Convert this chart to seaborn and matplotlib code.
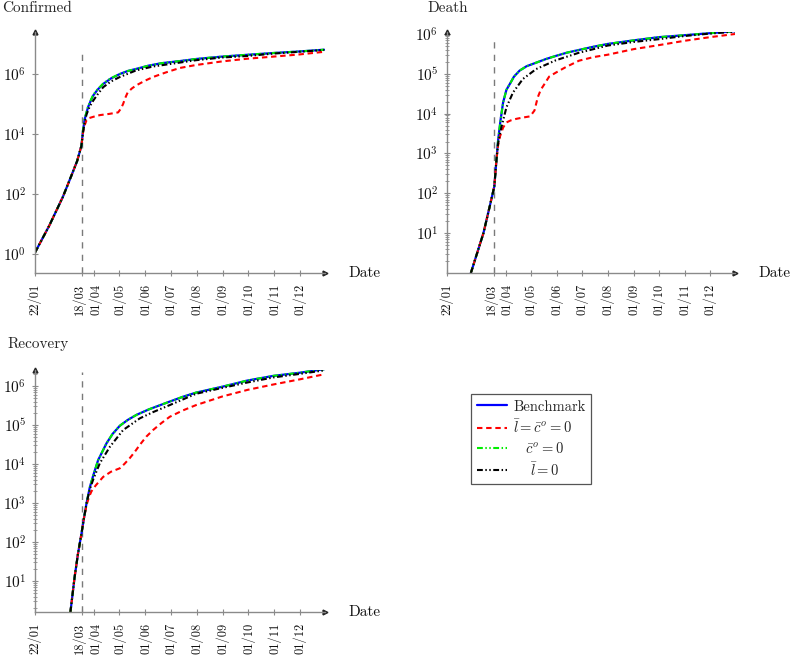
import numpy as np
import pandas as pd
import matplotlib
matplotlib.use("Agg")
import matplotlib.pyplot as plt
import matplotlib.transforms as mtransforms
import seaborn as sns
from matplotlib.ticker import FixedLocator, LogLocator, NullFormatter, NullLocator, LogFormatterMathtext

# ---------------- data (days since 22/01, log10 of value) ----------------
tick_days = [0, 56, 70, 100, 131, 161, 192, 223, 253, 284, 314]
tick_labels = ["22/01", "18/03", "01/04", "01/05", "01/06", "01/07",
               "01/08", "01/09", "01/10", "01/11", "01/12"]
series_labels = ["Benchmark", r"$\bar{l}=\bar{c}^o=0$", r"$\quad\bar{c}^o=0$", r"$\quad\ \bar{l}=0$"]
panel_titles = ["Confirmed", "Death", "Recovery"]

# Confirmed
conf_bench_days = [0, 17, 33, 43, 50, 55, 57.2, 59, 61.2, 63, 66, 69, 74, 80.9, 90, 100.6, 110, 120, 135, 150, 171.6, 191, 222, 252, 283, 313, 343]
conf_bench_log = [0.05, 0.95, 1.9, 2.6, 3.1, 3.6, 4.16, 4.5, 4.72, 4.9, 5.1, 5.28, 5.47, 5.67, 5.85, 6.0, 6.1, 6.17, 6.28, 6.36, 6.43, 6.5, 6.58, 6.64, 6.7, 6.75, 6.81]
conf_red_days = [0, 17, 33, 43, 50, 55, 57.2, 59, 61, 63, 70, 77, 88, 98.6, 102, 104.5, 107, 110, 115, 120, 130, 140, 155, 171.6, 191, 222, 252, 283, 313, 343]
conf_red_log = [0.05, 0.95, 1.9, 2.6, 3.1, 3.6, 4.1, 4.3, 4.45, 4.52, 4.58, 4.63, 4.67, 4.72, 4.85, 5.0, 5.2, 5.39, 5.52, 5.62, 5.77, 5.9, 6.05, 6.2, 6.3, 6.42, 6.51, 6.58, 6.65, 6.74]
conf_green_days = conf_bench_days
conf_green_log = [0.05, 0.95, 1.9, 2.6, 3.1, 3.6, 4.18, 4.52, 4.74, 4.92, 5.12, 5.3, 5.48, 5.68, 5.86, 6.0, 6.1, 6.17, 6.28, 6.36, 6.43, 6.5, 6.58, 6.64, 6.7, 6.75, 6.81]
conf_black_days = [0, 17, 33, 43, 50, 55, 57.2, 59, 61.2, 65, 69, 75, 80.9, 90, 100.6, 120, 140, 171.6, 191, 222, 252, 283, 313, 343]
conf_black_log = [0.05, 0.95, 1.9, 2.6, 3.1, 3.6, 4.1, 4.4, 4.66, 4.92, 5.11, 5.35, 5.56, 5.75, 5.9, 6.12, 6.25, 6.38, 6.46, 6.55, 6.6, 6.68, 6.74, 6.8]

# Death
death_bench_days = [28.5, 36, 43.5, 51, 56.5, 59.2, 61, 63.9, 67, 71, 74.9, 80, 86.7, 95, 106.5, 118, 130, 143, 157.7, 175, 192, 223, 253, 284, 314, 344]
death_bench_log = [0, 0.5, 1.0, 1.67, 2.17, 2.87, 3.32, 3.83, 4.28, 4.6, 4.74, 4.93, 5.08, 5.19, 5.28, 5.37, 5.45, 5.53, 5.6, 5.68, 5.75, 5.84, 5.92, 5.97, 6.02, 6.07]
death_red_days = [28.5, 36, 43.5, 51, 56.5, 59.2, 61, 63, 67, 71, 76, 82.8, 90, 98.6, 101, 104.5, 108.4, 112, 116.3, 122, 130, 142, 157.7, 175, 192, 223, 253, 284, 314, 344]
death_red_log = [0, 0.5, 1.0, 1.67, 2.17, 2.87, 3.2, 3.41, 3.65, 3.78, 3.83, 3.87, 3.9, 3.93, 3.98, 4.08, 4.41, 4.6, 4.74, 4.93, 5.03, 5.17, 5.33, 5.42, 5.48, 5.62, 5.72, 5.83, 5.92, 6.0]
death_green_days = death_bench_days
death_green_log = death_bench_log
death_black_days = [28.5, 36, 43.5, 51, 56.5, 59.2, 61, 65, 71, 78.8, 90.6, 106.5, 130, 157.7, 175, 192, 223, 253, 284, 314, 344]
death_black_log = [0, 0.5, 1.0, 1.67, 2.17, 2.87, 3.25, 3.66, 4.16, 4.53, 4.87, 5.12, 5.34, 5.53, 5.62, 5.71, 5.8, 5.87, 5.95, 6.01, 6.06]

# Recovery
rec_bench_days = [42, 47, 51, 55, 58, 61.2, 65, 69, 74.9, 84.8, 92, 100.6, 110, 120.4, 135, 159.8, 175, 191, 222, 252, 283, 314, 343]
rec_bench_log = [0.2, 1.1, 1.7, 2.2, 2.6, 3.0, 3.4, 3.7, 4.1, 4.53, 4.77, 4.98, 5.13, 5.26, 5.4, 5.6, 5.72, 5.83, 5.98, 6.14, 6.26, 6.34, 6.43]
rec_red_days = [42, 47, 51, 55, 58, 61.2, 64, 67, 72, 80.9, 90, 100.6, 106, 112.4, 118, 124.3, 132, 140, 150, 159.8, 175, 191, 222, 252, 283, 314, 343]
rec_red_log = [0.2, 1.1, 1.7, 2.2, 2.6, 2.95, 3.15, 3.3, 3.45, 3.67, 3.8, 3.89, 4.0, 4.15, 4.3, 4.49, 4.7, 4.87, 5.05, 5.21, 5.37, 5.51, 5.73, 5.9, 6.04, 6.17, 6.3]
rec_green_days = rec_bench_days
rec_green_log = rec_bench_log
rec_black_days = [42, 47, 51, 55, 58, 61.2, 65, 69, 76.9, 88.8, 104.5, 124.3, 140, 159.8, 191, 222, 252, 283, 314, 343]
rec_black_log = [0.2, 1.1, 1.7, 2.2, 2.6, 3.0, 3.35, 3.6, 4.02, 4.44, 4.87, 5.17, 5.33, 5.51, 5.8, 5.95, 6.09, 6.22, 6.31, 6.4]

# ---------------- style ----------------
sns.set_theme(style="white")
plt.rcParams["font.family"] = ["cmr10", "DejaVu Serif"]
plt.rcParams["mathtext.fontset"] = "cm"
plt.rcParams["axes.unicode_minus"] = False
plt.rcParams["axes.formatter.use_mathtext"] = True

W, H = 791, 663
fig = plt.figure(figsize=(W / 100, H / 100), dpi=100)

def fbox(l, t, r, b):
    return [l / W, 1 - b / H, (r - l) / W, (b - t) / H]

ax_c = fig.add_axes(fbox(35, 32, 325, 273))
ax_d = fig.add_axes(fbox(447, 32, 735, 273))
ax_r = fig.add_axes(fbox(35, 370, 325, 612))

colors = ["#0000ff", "#ff0000", "#00ee00", "#000000"]
styles = ["-", (0, (2.6, 1.8)), (0, (2.8, 1.2, 0.7, 1.2, 0.7, 1.2)), (0, (2.8, 1.2, 0.7, 1.2, 0.7, 1.2))]
widths = [1.6, 1.5, 1.5, 1.5]
# horizontal nudges (pixels) for the x labels, so the crowded pair stays apart
label_nudge = [0, -3.0, 1.5, 0, 0, 0, 0, 0, 0, 0, 0]

panels = [
    (ax_c, [(conf_bench_days, conf_bench_log), (conf_red_days, conf_red_log),
            (conf_green_days, conf_green_log), (conf_black_days, conf_black_log)],
     (-0.633, 7.4), [0, 2, 4, 6], False, 0.925),
    (ax_d, [(death_bench_days, death_bench_log), (death_red_days, death_red_log),
            (death_green_days, death_green_log), (death_black_days, death_black_log)],
     (0.0, 6.05), [1, 2, 3, 4, 5, 6], True, 0.975),
    (ax_r, [(rec_bench_days, rec_bench_log), (rec_red_days, rec_red_log),
            (rec_green_days, rec_green_log), (rec_black_days, rec_black_log)],
     (0.205, 6.41), [1, 2, 3, 4, 5, 6], True, 0.99),
]

axis_gray = "#8a8a8a"
for ax, series, (lo, hi), yexp, minor, vfrac in panels:
    ax.axvline(56, ymin=0, ymax=vfrac, color="#7a7a7a", lw=1.0, ls=(0, (4.5, 4.5)))
    for (d, lg), c, st, lw in zip(series, colors, styles, widths):
        df = pd.DataFrame({"day": d, "value": np.power(10.0, lg)})
        sns.lineplot(data=df, x="day", y="value", ax=ax, color=c, linestyle=st,
                     lw=lw, legend=False, sort=False, estimator=None)
    ax.set_yscale("log")
    ax.set_xlim(0, 344)
    ax.set_ylim(10 ** lo, 10 ** hi)
    ax.set_xlabel("")
    ax.set_ylabel("")
    ax.grid(False)
    for s in ["top", "right"]:
        ax.spines[s].set_visible(False)
    for s in ["left", "bottom"]:
        ax.spines[s].set_color(axis_gray)
        ax.spines[s].set_linewidth(1.0)
    ax.plot(1, 0, ">", color="#222222", ms=3.5, transform=ax.transAxes, clip_on=False)
    ax.plot(0, 1, "^", color="#222222", ms=3.5, transform=ax.transAxes, clip_on=False)
    ax.set_xticks(tick_days)
    ax.set_xticklabels([""] * len(tick_days))
    base = mtransforms.blended_transform_factory(ax.transData, ax.transAxes)
    for d, lab, dx in zip(tick_days, tick_labels, label_nudge):
        tr = base + mtransforms.ScaledTranslation(dx / 100, -11 / 100, fig.dpi_scale_trans)
        ax.text(d, 0, lab, transform=tr, rotation=90, ha="center", va="top",
                fontsize=9, color="#111111", clip_on=False)
    ax.yaxis.set_major_locator(FixedLocator([10.0 ** e for e in yexp]))
    ax.yaxis.set_major_formatter(LogFormatterMathtext())
    if minor:
        ax.yaxis.set_minor_locator(LogLocator(base=10, subs=np.arange(2, 10), numticks=20))
        ax.yaxis.set_minor_formatter(NullFormatter())
    else:
        ax.yaxis.set_minor_locator(NullLocator())
    ax.tick_params(axis="both", which="both", bottom=True, left=True, top=False, right=False)
    ax.tick_params(axis="both", which="major", direction="inout", length=4.5,
                   width=0.8, color=axis_gray, labelcolor="#111111")
    ax.tick_params(axis="y", which="major", pad=4, labelsize=11)
    ax.tick_params(axis="y", which="minor", direction="inout", length=3,
                   width=0.6, color=axis_gray)
    ax.text(1.08, 0, "Date", transform=ax.transAxes, ha="left", va="center",
            fontsize=11, color="#111111")

fig.text(2 / W, 1 - 8 / H, panel_titles[0], ha="left", va="center", fontsize=11)
fig.text(427 / W, 1 - 8 / H, panel_titles[1], ha="left", va="center", fontsize=11)
fig.text(7 / W, 1 - 344 / H, panel_titles[2], ha="left", va="center", fontsize=11)

handles = ax_c.get_lines()[1:5]
leg = fig.legend(handles, series_labels, loc="upper left",
                 bbox_to_anchor=(471 / W, 1 - 394 / H), frameon=True, fancybox=False,
                 edgecolor="#555555", framealpha=1, fontsize=10.5, handlelength=2.1,
                 labelspacing=0.35, borderpad=0.4, handletextpad=0.4, borderaxespad=0)
leg.get_frame().set_linewidth(0.9)

fig.savefig("out.png", dpi=100)
